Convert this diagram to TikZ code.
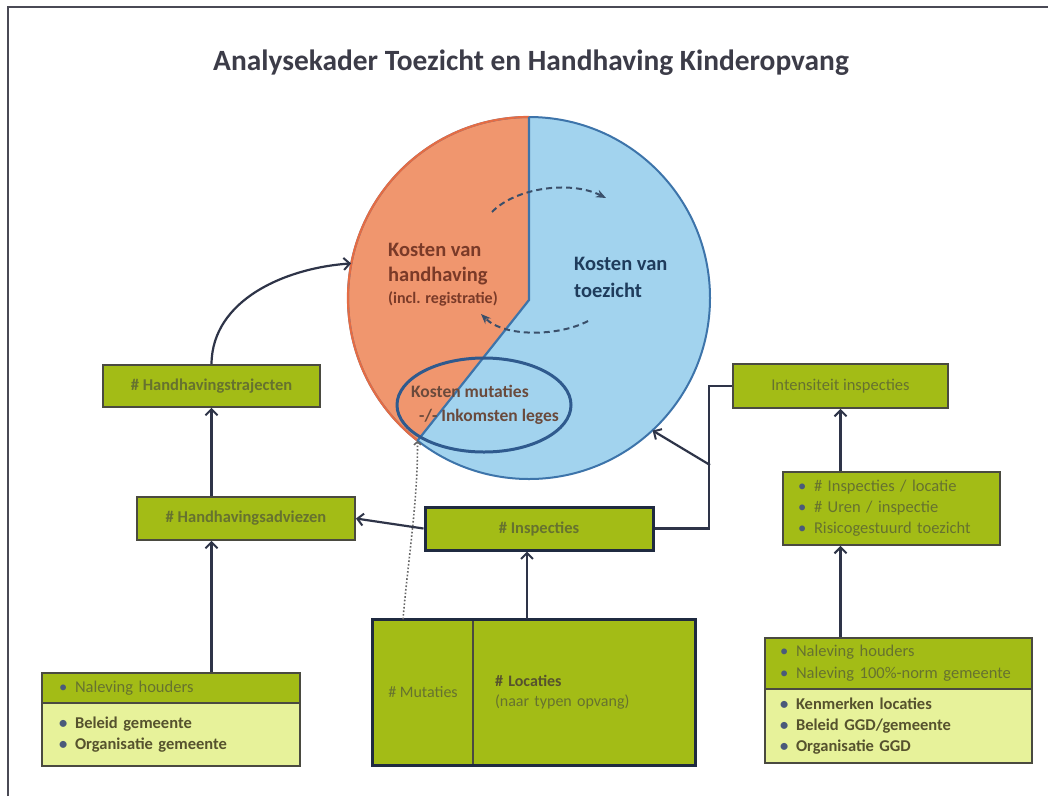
\documentclass[tikz,border=0pt]{standalone}
\usepackage{fontspec}
\setmainfont{Carlito}
\usetikzlibrary{arrows.meta,shapes.geometric,calc}
\definecolor{framec}{HTML}{4A4A55}
\definecolor{titlec}{HTML}{3C3C48}
\definecolor{orfill}{HTML}{F0966E}
\definecolor{orline}{HTML}{E46C44}
\definecolor{blfill}{HTML}{A2D3EE}
\definecolor{blline}{HTML}{3D74AA}
\definecolor{ellc}{HTML}{2F5A8E}
\definecolor{grfill}{HTML}{A3BC16}
\definecolor{ltfill}{HTML}{E7F29A}
\definecolor{boxline}{HTML}{4A4A40}
\definecolor{navy}{HTML}{1F2A40}
\definecolor{linec}{HTML}{2E3448}
\definecolor{gtext}{HTML}{66722F}
\definecolor{dtext}{HTML}{56522E}
\definecolor{bulc}{HTML}{4A5A7A}
\definecolor{khtext}{HTML}{7A3A28}
\definecolor{kttext}{HTML}{1F3C5C}
\definecolor{mutc}{HTML}{6A4A3C}
\definecolor{dashc}{HTML}{3A4F6A}
\newcommand{\fs}[2]{\fontsize{#1}{#2}\selectfont}
\newcommand{\bpt}[1]{\makebox[16pt][l]{\textcolor{bulc}{•}}#1}
\begin{document}
\begin{tikzpicture}[x=1pt,y=-1pt,
  greenbox/.style={draw=boxline, line width=1.8pt, fill=grfill, inner sep=0pt, text=gtext},
  lightbox/.style={draw=boxline, line width=1.8pt, fill=ltfill, inner sep=0pt, text=dtext},
  arr/.style={draw=linec, line width=2.2pt, -{Straight Barb[length=6pt,width=12pt,line width=2pt]}},
  plainln/.style={draw=linec, line width=2.2pt},
  dasharr/.style={draw=dashc, line width=2pt, dash pattern=on 6pt off 4pt, -{Stealth[length=10pt,width=8pt]}},
]
\useasboundingbox (0,0) rectangle (1048,796);
\fill[white] (0,0) rectangle (1048,796);
% frame
\draw[framec, line width=2.4pt] (8,796) -- (8,7) -- (1048,7);
% title
\node[font=\fs{29.4}{34}\bfseries, text=titlec] (title) at (531,63) {Analysekader Toezicht en Handhaving Kinderopvang};

% pie
\node[circle, minimum size=362pt, inner sep=0pt] (pie) at (529,298) {};
\coordinate (M) at (529,300);
\coordinate (P) at (pie.232);
\fill[blfill] (pie.center) circle[radius=181];
\begin{scope}
  \clip (pie.center) circle[radius=181];
  \fill[orfill] (529,100) -- (M) -- (417,440) -- (370,500) -- (320,500) -- (320,100) -- cycle;
\end{scope}
\draw[blline, line width=2pt] (pie.center) circle[radius=181];
\begin{scope}
  \clip (529,100) -- (M) -- (417,440) -- (370,500) -- (320,500) -- (320,100) -- cycle;
  \draw[orline, line width=2.2pt] (pie.center) circle[radius=181];
\end{scope}
\draw[blline, line width=2.2pt] (pie.north) -- (M) -- (P);

% texts in pie
\node[anchor=north west, align=left, inner sep=0pt, text=khtext, font=\fs{20.5}{25}\bfseries] (kh) at (388,243)
  {Kosten van\\handhaving\\[-3pt]{\fs{16}{20}\selectfont (incl. registratie)}};
\node[anchor=west, align=left, inner sep=0pt, text=kttext, font=\fs{20.5}{27}\bfseries] (kt) at (574,277)
  {Kosten van\\toezicht};

% dashed arrows
\coordinate (d1s) at (492,212);
\coordinate (d1e) at (606,198);
\coordinate (d2s) at (588,321);
\coordinate (d2e) at (481,314);
\draw[dasharr] (d1s) .. controls (515,188) and (570,180) .. (d1e);
\draw[dasharr] (d2s) .. controls (560,336) and (505,338) .. (d2e);

% ellipse
\node[ellipse, draw=ellc, line width=3pt, minimum width=174pt, minimum height=94pt, inner sep=0pt] (mut) at (484,405) {};
\node[anchor=west, align=left, inner sep=0pt, text=mutc, font=\fs{17.5}{24}\bfseries] (mutt) at (411,405)
  {Kosten mutaties\\\hspace*{8pt}-/- Inkomsten leges};

% boxes
\node[greenbox, minimum width=217pt, minimum height=42pt, font=\fs{16.5}{20}\bfseries] (traj) at (211.5,386) {\# Handhavingstrajecten};
\node[greenbox, minimum width=218pt, minimum height=43pt, font=\fs{16.5}{20}\bfseries] (adv) at (246,518.5) {\# Handhavingsadviezen};
\node[greenbox, draw=navy, line width=3pt, minimum width=228pt, minimum height=43pt, font=\fs{16.5}{20}\bfseries] (insp) at (539,528.5) {\# Inspecties};
\node[greenbox, minimum width=215pt, minimum height=44pt, font=\fs{16.5}{20}] (int) at (840.5,386) {Intensiteit inspecties};
\node[greenbox, minimum width=217pt, minimum height=73pt, align=left, text width=187pt, inner xsep=15pt, font=\fs{16.5}{21}] (bul) at (891.5,508.5)
  {\bpt{\# Inspecties / locatie}\\\bpt{\# Uren / inspectie}\\\bpt{Risicogestuurd toezicht}};

% bottom left
\node[greenbox, minimum width=258pt, minimum height=30pt, align=left, text width=224pt, inner xsep=17pt, font=\fs{16.5}{21}] (bltop) at (171,688)
  {\bpt{Naleving houders}};
\node[lightbox, minimum width=258pt, minimum height=63pt, align=left, text width=224pt, inner xsep=17pt, font=\fs{16.5}{21}\bfseries] (blbot) at (171,734.5)
  {\bpt{Beleid gemeente}\\\bpt{Organisatie gemeente}};

% bottom centre
\node[greenbox, line width=1.5pt, minimum width=100pt, minimum height=145pt, font=\fs{16}{20}] (bcl) at (423,692.5) {\# Mutaties};
\node[greenbox, line width=1.5pt, minimum width=222pt, minimum height=145pt, align=left, text width=178pt, inner xsep=22pt, font=\fs{16}{20}] (bcr) at (584,692.5)
  {\textbf{\textcolor{dtext}{\# Locaties}}\\(naar typen opvang)};
\draw[navy, line width=3pt] (bcl.north west) rectangle (bcr.south east);

% bottom right
\node[greenbox, minimum width=267pt, minimum height=51pt, align=left, text width=237pt, inner xsep=15pt, font=\fs{16.5}{22}] (brtop) at (898.5,663.5)
  {\bpt{Naleving houders}\\\bpt{Naleving 100\%-norm  gemeente}};
\node[lightbox, minimum width=267pt, minimum height=74pt, align=left, text width=237pt, inner xsep=15pt, font=\fs{16.5}{21}\bfseries] (brbot) at (898.5,726)
  {\bpt{Kenmerken  locaties}\\\bpt{Beleid GGD/gemeente}\\\bpt{Organisatie GGD}};

% connectors
\draw[arr] (traj.north) .. controls (212,300) and (285,268) .. (pie.169);
\draw[arr] (adv.north -| traj.south) -- (traj.south);
\draw[arr] (bltop.north -| traj.south) -- (adv.south -| traj.south);
\draw[arr] (insp.west) -- (adv.east);
\draw[arr] ([xshift=-12pt]insp.south |- bcl.north) -- ([xshift=-12pt]insp.south);
\draw[plainln] (insp.east) -| ([xshift=-23pt]int.west) -- (int.west);
\coordinate (j) at (710,465);
\draw[arr] (j) -- (pie.313.7);
\draw[arr] (bul.north -| int.south) -- (int.south);
\draw[arr] (brtop.north -| int.south) -- (bul.south -| int.south);
\draw[gray!80!black, line width=1.6pt, dotted, -{Straight Barb[length=3pt,width=7pt]}] ([xshift=-20pt]bcl.north) .. controls (408,560) and (418,500) .. (P);
\end{tikzpicture}
\end{document}
